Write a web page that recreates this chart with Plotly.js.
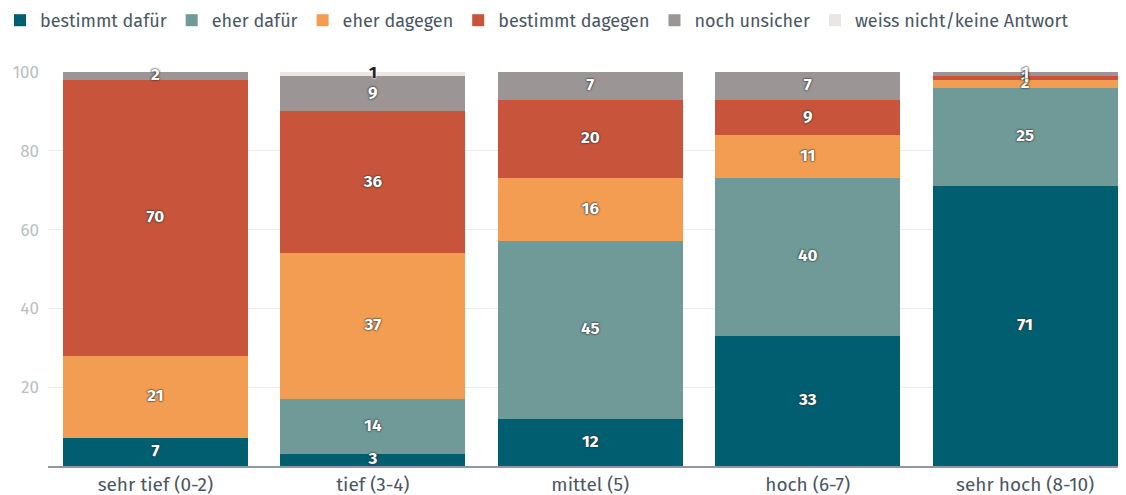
<!DOCTYPE html>
<html>
<head>
<meta charset="utf-8">
<script src="https://cdn.plot.ly/plotly-3.0.1.min.js"></script>
<style>
html,body{margin:0;padding:0;background:#fff;}
#chart{width:1126px;height:495px;}
</style>
</head>
<body>
<div id="chart"></div>
<script>
const categories = ["sehr tief (0-2)", "tief (3-4)", "mittel (5)", "hoch (6-7)", "sehr hoch (8-10)"];
const seriesNames = ["bestimmt dafür", "eher dafür", "eher dagegen", "bestimmt dagegen", "noch unsicher", "weiss nicht/keine Antwort"];
const bestimmtDafuer   = [7, 3, 12, 33, 71];
const eherDafuer       = [0, 14, 45, 40, 25];
const eherDagegen      = [21, 37, 16, 11, 2];
const bestimmtDagegen  = [70, 36, 20, 9, 1];
const nochUnsicher     = [2, 9, 7, 7, 1];
const weissNicht       = [0, 1, 0, 0, 0];
const yTicks = [20, 40, 60, 80, 100];

const colors = ["#005e71", "#6f9a98", "#f39d52", "#c8553b", "#9c9596", "#ebe6e3"];
const series = [bestimmtDafuer, eherDafuer, eherDagegen, bestimmtDagegen, nochUnsicher, weissNicht];

const FONT = "'Fira Sans', 'Noto Sans', 'Open Sans', sans-serif";

const traces = series.map((vals, i) => ({
  type: 'bar',
  name: seriesNames[i],
  x: categories,
  y: vals,
  marker: {color: colors[i], line: {width: 0}},
  hoverinfo: 'skip'
}));

// label positions: midpoints of stacked segments (light series get dark text)
const L = {x: [], y: [], t: []}, D = {x: [], y: [], t: []};
categories.forEach((c, ci) => {
  let base = 0;
  series.forEach((vals, si) => {
    const v = vals[ci];
    if (v > 0) {
      const tgt = (si === 5) ? D : L;
      tgt.x.push(c); tgt.y.push(base + v / 2); tgt.t.push(String(v));
    }
    base += v;
  });
});
traces.push({
  type: 'scatter', mode: 'text',
  x: L.x, y: L.y, text: L.t,
  textposition: 'middle center',
  textfont: {family: FONT, size: 17, color: '#ffffff', weight: 'bold',
             shadow: '0px 0px 2px #333, 0px 0px 2px #333'},
  showlegend: false, hoverinfo: 'skip', cliponaxis: false
});
traces.push({
  type: 'scatter', mode: 'text',
  x: D.x, y: D.y, text: D.t,
  textposition: 'middle center',
  textfont: {family: FONT, size: 17, color: '#222222', weight: 'bold',
             shadow: '0px 0px 2px #fff, 0px 0px 2px #fff'},
  showlegend: false, hoverinfo: 'skip', cliponaxis: false
});

const layout = {
  width: 1126, height: 495,
  margin: {l: 48, r: 8, t: 72, b: 29, autoexpand: false},
  barmode: 'stack',
  bargap: 0.149,
  paper_bgcolor: '#ffffff',
  plot_bgcolor: '#ffffff',
  font: {family: FONT, color: '#4a5663', size: 16},
  showlegend: true,
  legend: {
    orientation: 'h', xref: 'container', yref: 'container',
    x: -0.004, xanchor: 'left', y: 1 - 2/495, yanchor: 'top',
    font: {family: FONT, size: 18, color: '#4a5663'},
    traceorder: 'normal', itemwidth: 30,
    tracegroupgap: 0
  },
  xaxis: {
    type: 'category',
    range: [-0.494, 4.427],
    showgrid: false,
    showline: true, linecolor: '#8d98a3', linewidth: 1.5,
    ticks: '', ticklabelstandoff: 1,
    tickfont: {family: FONT, size: 19, color: '#4a5663'},
    fixedrange: true
  },
  yaxis: {
    range: [0, 100],
    tickvals: yTicks,
    showgrid: true, gridcolor: '#ececec', gridwidth: 1,
    zeroline: false, showline: false,
    ticks: '', ticklabelstandoff: 8,
    tickfont: {family: FONT, size: 17, color: '#b9bfc6'},
    fixedrange: true
  },
  hovermode: false
};

Plotly.newPlot('chart', traces, layout, {displayModeBar: false, staticPlot: true});
</script>
</body>
</html>
